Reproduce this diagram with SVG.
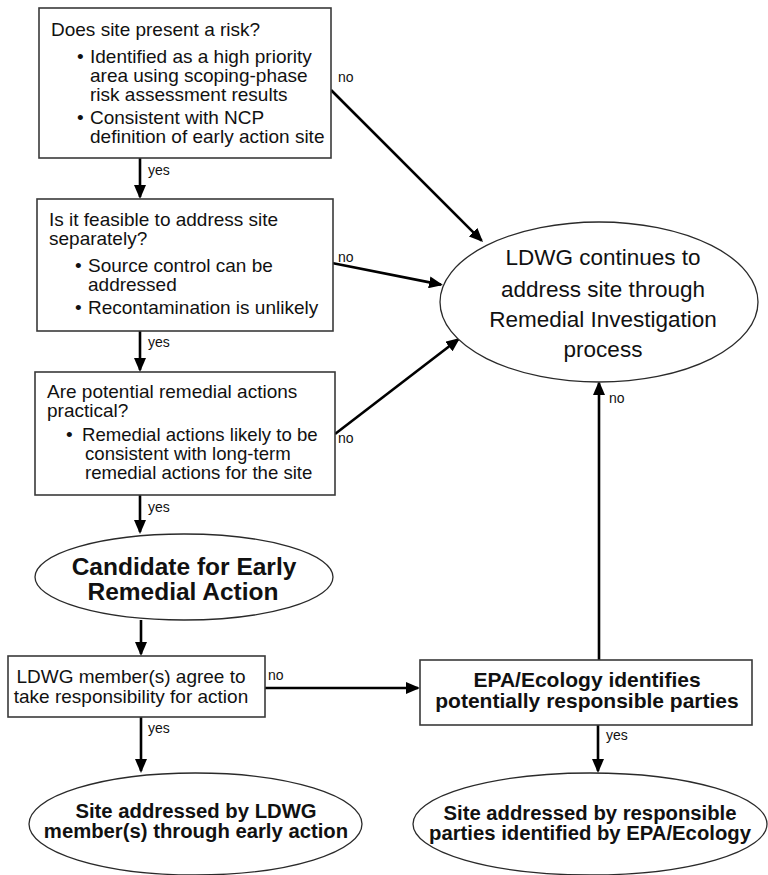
<svg xmlns="http://www.w3.org/2000/svg" width="768" height="875" viewBox="0 0 768 875">
<style>
  .box { fill: #fff; stroke: #3a3a3a; stroke-width: 1.6; }
  .ell { fill: #fff; stroke: #2a2a2a; stroke-width: 1.3; }
  .t { font-family: "Liberation Sans", Arial, sans-serif; font-size: 19px; fill: #111; }
  .tb { font-family: "Liberation Sans", Arial, sans-serif; font-weight: bold; fill: #111; }
  .lbl { font-family: "Liberation Sans", Arial, sans-serif; font-size: 14px; fill: #111; }
  .big { font-family: "Liberation Sans", Arial, sans-serif; font-size: 22.5px; fill: #111; }
  .arr { stroke: #000; stroke-width: 2.6; fill: none; marker-end: url(#ah); }
</style>
<defs>
  <marker id="ah" markerUnits="userSpaceOnUse" markerWidth="14" markerHeight="12" refX="12" refY="6" orient="auto">
    <path d="M0,0 L14,6 L0,12 z" fill="#000"/>
  </marker>
</defs>
<rect width="768" height="875" fill="#fff"/>

<g id="connectors">
  <line class="arr" x1="140" y1="158" x2="140" y2="197"/>
  <line class="arr" x1="140" y1="331" x2="140" y2="370"/>
  <line class="arr" x1="140" y1="495" x2="140" y2="532"/>
  <line class="arr" x1="141" y1="620" x2="141" y2="654"/>
  <line class="arr" x1="141" y1="717" x2="141" y2="771"/>
  <line class="arr" x1="598" y1="725" x2="598" y2="771"/>
  <line class="arr" x1="599" y1="660" x2="599" y2="383"/>
  <line class="arr" x1="265" y1="688" x2="418" y2="688"/>
  <line class="arr" x1="331" y1="90" x2="481.6" y2="240.6"/>
  <line class="arr" x1="332" y1="263" x2="441" y2="284.6"/>
  <line class="arr" x1="335" y1="434" x2="458.4" y2="339.2"/>
  <text class="lbl" x="148" y="175">yes</text>
  <text class="lbl" x="148" y="347">yes</text>
  <text class="lbl" x="148" y="512">yes</text>
  <text class="lbl" x="148" y="733">yes</text>
  <text class="lbl" x="606" y="740">yes</text>
  <text class="lbl" x="338" y="82">no</text>
  <text class="lbl" x="338" y="262">no</text>
  <text class="lbl" x="338" y="443">no</text>
  <text class="lbl" x="268" y="680">no</text>
  <text class="lbl" x="609" y="403">no</text>
</g>

<g id="risk">
  <rect class="box" x="39" y="8" width="292" height="150"/>
  <text class="t" x="51" y="36">Does site present a risk?</text>
  <text class="t" x="77" y="63">•</text>
  <text class="t" x="90" y="63">Identified as a high priority</text>
  <text class="t" x="90" y="82">area using scoping-phase</text>
  <text class="t" x="90" y="101">risk assessment results</text>
  <text class="t" x="77" y="124">•</text>
  <text class="t" x="90" y="124">Consistent with NCP</text>
  <text class="t" x="90" y="143">definition of early action site</text>
</g>

<g id="feasible">
  <rect class="box" x="37" y="199" width="296" height="132"/>
  <text class="t" x="49" y="226">Is it feasible to address site</text>
  <text class="t" x="49" y="245">separately?</text>
  <text class="t" x="75" y="272">•</text>
  <text class="t" x="88" y="272">Source control can be</text>
  <text class="t" x="88" y="291">addressed</text>
  <text class="t" x="75" y="314">•</text>
  <text class="t" x="88" y="314">Recontamination is unlikely</text>
</g>

<g id="practical">
  <rect class="box" x="35" y="372" width="300" height="123"/>
  <text class="t" x="47" y="398">Are potential remedial actions</text>
  <text class="t" x="47" y="417">practical?</text>
  <text class="t" x="66" y="441">•</text>
  <text class="t" x="82" y="441" style="font-size:18.6px">Remedial actions likely to be</text>
  <text class="t" x="85" y="460" style="font-size:18.6px">consistent with long-term</text>
  <text class="t" x="85" y="479" style="font-size:18.6px">remedial actions for the site</text>
</g>

<g id="continue">
  <ellipse class="ell" cx="599" cy="302" rx="159" ry="80"/>
  <text class="big" x="603" y="265" text-anchor="middle">LDWG continues to</text>
  <text class="big" x="603" y="297" text-anchor="middle">address site through</text>
  <text class="big" x="603" y="327" text-anchor="middle">Remedial Investigation</text>
  <text class="big" x="603" y="357" text-anchor="middle">process</text>
</g>

<g id="candidate">
  <ellipse class="ell" cx="184" cy="577" rx="149" ry="43"/>
  <text class="tb" font-size="24.5" x="184" y="575" text-anchor="middle">Candidate for Early</text>
  <text class="tb" font-size="24.5" x="183" y="600" text-anchor="middle">Remedial Action</text>
</g>

<g id="agree">
  <rect class="box" x="8" y="656" width="257" height="61"/>
  <text class="t" x="131" y="683" text-anchor="middle">LDWG member(s) agree to</text>
  <text class="t" x="131" y="703" text-anchor="middle">take responsibility for action</text>
</g>

<g id="epa">
  <rect class="box" x="420" y="660" width="332" height="65"/>
  <text class="tb" font-size="21" x="587" y="687" text-anchor="middle">EPA/Ecology identifies</text>
  <text class="tb" font-size="21" x="587" y="708" text-anchor="middle">potentially responsible parties</text>
</g>

<g id="ldwgaction">
  <ellipse class="ell" cx="195.5" cy="824" rx="166.5" ry="51"/>
  <text class="tb" font-size="20.3" x="196" y="817.5" text-anchor="middle">Site addressed by LDWG</text>
  <text class="tb" font-size="20.3" x="196" y="838" text-anchor="middle">member(s) through early action</text>
</g>

<g id="rpaction">
  <ellipse class="ell" cx="590" cy="824" rx="177" ry="51"/>
  <text class="tb" font-size="20.3" x="590" y="819.5" text-anchor="middle">Site addressed by responsible</text>
  <text class="tb" font-size="20.3" x="590" y="840" text-anchor="middle">parties identified by EPA/Ecology</text>
</g>
</svg>
